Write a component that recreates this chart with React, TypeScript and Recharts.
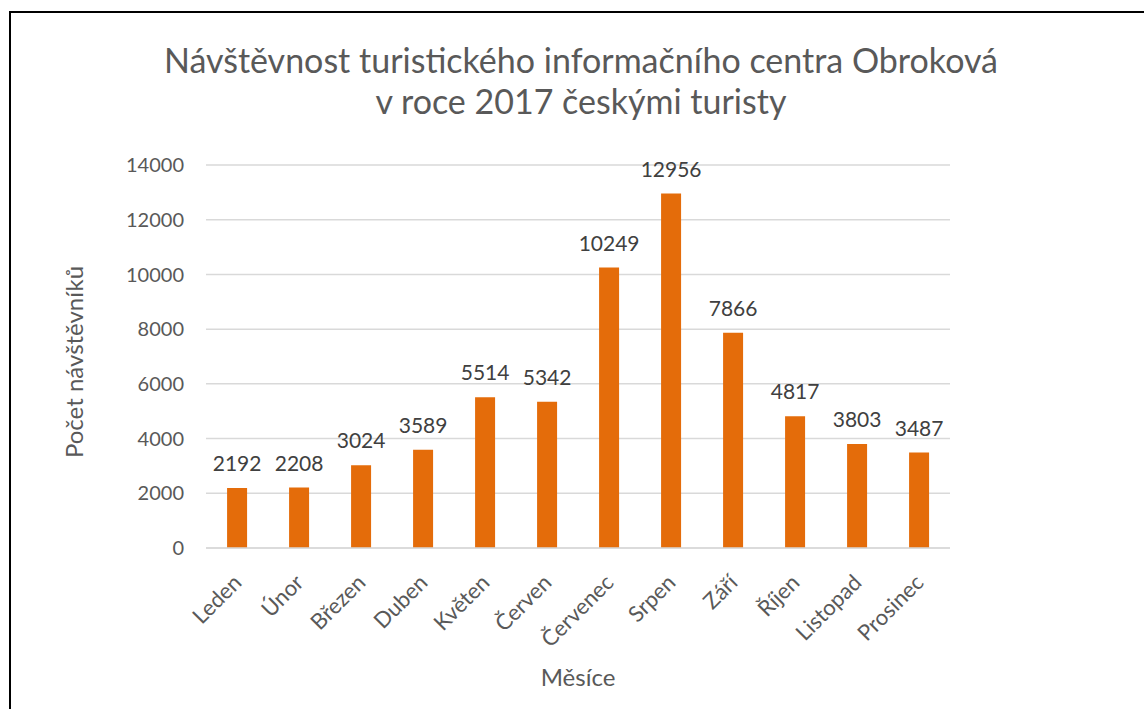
import React from "react";
import { BarChart, Bar, XAxis, YAxis, CartesianGrid, LabelList } from "recharts";

const months = ["Leden", "Únor", "Březen", "Duben", "Květen", "Červen", "Červenec", "Srpen", "Září", "Říjen", "Listopad", "Prosinec"];
const visitors = [2192, 2208, 3024, 3589, 5514, 5342, 10249, 12956, 7866, 4817, 3803, 3487];
const yTicks = [0, 2000, 4000, 6000, 8000, 10000, 12000, 14000];
const titleLines = ["Návštěvnost turistického informačního centra Obroková", "v roce 2017 českými turisty"];
const yTitle = "Počet návštěvníků";
const xTitle = "Měsíce";

const data = months.map((m, i) => ({ month: m, value: visitors[i] }));

const FONT = "Lato, 'Open Sans', sans-serif";
const GREY = "#595959";

const XTick = (props: any) => {
  const { x, y, payload } = props;
  const ax = x;
  const ay = y + 22;
  return (
    <text
      x={ax}
      y={ay}
      transform={`rotate(-45, ${ax}, ${ay})`}
      textAnchor="end"
      dominantBaseline="central"
      fill={GREY}
      fontSize={22}
      fontFamily={FONT}
    >
      {payload.value}
    </text>
  );
};

export default function App() {
  return (
    <div style={{ position: "absolute", left: 0, top: 0, width: 1144, height: 709, background: "#fff", overflow: "hidden", fontFamily: FONT }}>
      <div style={{ position: "absolute", left: 9, top: 11, width: 1200, height: 800, borderLeft: "2px solid #000", borderTop: "2px solid #000" }} />
      <div style={{ position: "absolute", left: 0, top: 39, width: 1162, textAlign: "center", color: GREY, fontSize: 34, lineHeight: "41px" }}>
        {titleLines.map((t) => (
          <div key={t}>{t}</div>
        ))}
      </div>
      <div
        style={{
          position: "absolute",
          left: 73,
          top: 362,
          transform: "translate(-50%, -50%) rotate(-90deg)",
          whiteSpace: "nowrap",
          color: GREY,
          fontSize: 24,
        }}
      >
        {yTitle}
      </div>
      <div style={{ position: "absolute", left: 578, top: 676, transform: "translate(-50%, -50%)", color: GREY, fontSize: 24, whiteSpace: "nowrap" }}>
        {xTitle}
      </div>
      <div style={{ position: "absolute", left: 0, top: 0 }}>
        <BarChart width={1144} height={709} data={data} margin={{ top: 165, right: 194, bottom: 0, left: 126 }} barCategoryGap="34%">
          <CartesianGrid vertical={false} stroke="#D9D9D9" strokeWidth={1.5} />
          <XAxis
            dataKey="month"
            height={161}
            interval={0}
            tickLine={false}
            axisLine={{ stroke: "#D9D9D9", strokeWidth: 1.5 }}
            tick={<XTick />}
          />
          <YAxis
            width={80}
            domain={[0, 14000]}
            ticks={yTicks}
            axisLine={false}
            tickLine={false}
            tickSize={0}
            tickMargin={22}
            tick={{ fill: GREY, fontSize: 20, fontFamily: FONT }}
          />
          <Bar dataKey="value" fill="#E46C0A" isAnimationActive={false}>
            <LabelList dataKey="value" position="top" offset={17} fill="#404040" fontSize={21} fontFamily={FONT} />
          </Bar>
        </BarChart>
      </div>
    </div>
  );
}
